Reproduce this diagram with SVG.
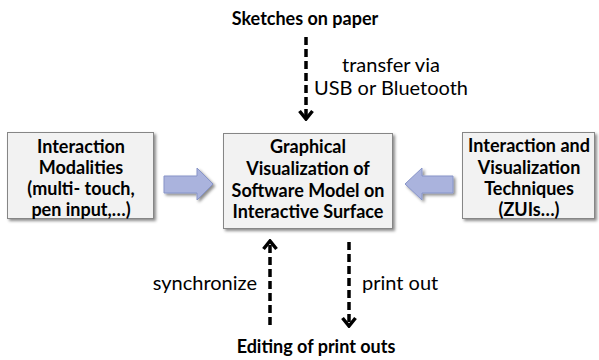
<svg xmlns="http://www.w3.org/2000/svg" width="599" height="360" viewBox="0 0 599 360">
  <style>
    .box { fill: #f2f2f2; stroke: #868686; stroke-width: 1; }
    .blk { fill: #aab3dd; stroke: #8794c8; stroke-width: 1; }
    .bt { font-family: Lato, "Open Sans", sans-serif; font-weight: bold; font-size: 18px; fill: #000; text-anchor: middle; }
    .rt { font-family: Lato, "Open Sans", sans-serif; font-size: 20px; fill: #000; }
    .dash { fill: none; stroke: #000; stroke-width: 3.5; stroke-dasharray: 8 4; marker-end: url(#chev); }
  </style>
  <defs>
    <filter id="shadow" x="-10%" y="-10%" width="125%" height="130%">
      <feDropShadow dx="2" dy="2" stdDeviation="1.5" flood-color="#000" flood-opacity="0.45"/>
    </filter>
    <marker id="chev" markerUnits="userSpaceOnUse" viewBox="-12 -10 14 20" markerWidth="14" markerHeight="20" refX="0" refY="0" orient="auto">
      <path d="M -8 -6.5 L 0 0 L -8 6.5" fill="none" stroke="#000" stroke-width="3.5" stroke-linejoin="miter"/>
    </marker>
  </defs>

  <!-- side inputs -->
  <g id="modalities">
    <rect class="box" x="7.5" y="132.5" width="146" height="86" filter="url(#shadow)"/>
    <text class="bt" x="81" y="153">Interaction</text>
    <text class="bt" x="81" y="174">Modalities</text>
    <text class="bt" x="81" y="195">(multi- touch,</text>
    <text class="bt" x="81" y="216">pen input,…)</text>
  </g>

  <g id="surface">
    <rect class="box" x="223.5" y="133.5" width="169" height="95" filter="url(#shadow)"/>
    <text class="bt" x="308" y="153">Graphical</text>
    <text class="bt" x="308" y="175">Visualization of</text>
    <text class="bt" x="308" y="197">Software Model on</text>
    <text class="bt" x="308" y="218">Interactive Surface</text>
  </g>

  <g id="techniques">
    <rect class="box" x="462.5" y="132.5" width="132" height="86" filter="url(#shadow)"/>
    <text class="bt" x="529" y="152">Interaction and</text>
    <text class="bt" x="529" y="174">Visualization</text>
    <text class="bt" x="529" y="195">Techniques</text>
    <text class="bt" x="529" y="216">(ZUIs…)</text>
  </g>

  <g id="sketches">
    <text class="bt" x="305" y="25">Sketches on paper</text>
  </g>

  <g id="printouts">
    <text class="bt" x="316" y="353">Editing of print outs</text>
  </g>

  <!-- connectors -->
  <g id="connectors">
    <path class="blk" d="M164 176 H197 V168 L213 184 L197 200 V193 H164 Z" filter="url(#shadow)"/>
    <path class="blk" d="M453 176 H422 V168 L405 184 L422 200 V193 H453 Z" filter="url(#shadow)"/>
    <line class="dash" x1="306" y1="37" x2="306" y2="119"/>
    <line class="dash" x1="270" y1="325" x2="270" y2="241"/>
    <line class="dash" x1="349" y1="242" x2="349" y2="326"/>
    <text class="rt" x="391" y="72" text-anchor="middle">transfer via</text>
    <text class="rt" x="391" y="95" text-anchor="middle">USB or Bluetooth</text>
    <text class="rt" x="257" y="290" text-anchor="end">synchronize</text>
    <text class="rt" x="362" y="290">print out</text>
  </g>
</svg>
